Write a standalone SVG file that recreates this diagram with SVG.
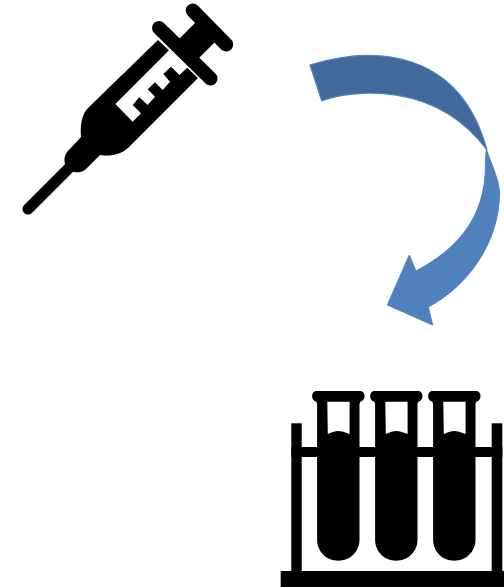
<svg xmlns="http://www.w3.org/2000/svg" width="504" height="587" viewBox="0 0 504 587">
<style>
.k{fill:#000}
.w{fill:#fff}
.fl{stroke:#000;stroke-width:14;stroke-linecap:round;fill:none}
.nd{stroke:#000;stroke-width:11;stroke-linecap:round;fill:none}
.lt{fill:#4f81bd;stroke:#4f81bd;stroke-width:1}
.dk{fill:#41699b;stroke:#4f81bd;stroke-width:1.2}
</style>
<defs>
<g id="tube">
<path class="k" d="M-22 391H22C24.500 391 26.200 393.500 26.200 396.300C26.200 399 24.500 401 22 401.700L21.200 404V539.500C21.200 551.500 12 560.700 0 560.700C-12 560.700 -21.200 551.500 -21.200 539.500V404L-22 401.700C-24.500 401 -26.200 399 -26.200 396.300C-26.200 393.500 -24.500 391 -22 391Z"/>
<path class="w" d="M-11 401.700H11.300V434C6 432.300 3 431 0 431C-3 431 -6 432.300 -10.500 434Z"/>
</g>
</defs>
<rect width="504" height="587" fill="#fff"/>
<g id="syringe">
<path class="nd" d="M28 209L72 165"/>
<path class="fl" d="M192.700 10.500L226.200 44.500"/>
<path class="fl" d="M159 28L210.500 78.500"/>
<path class="k" d="M174 44L200 18L219.500 37.500L193.500 63.500Z"/>
<path class="k" d="M158 40L198 78L128 148C120 155 110 156.500 100 155L85 170C79 174 70 173 66 166C63 160 65 155 67 152L81 137C80 125 82 114 88 108Z"/>
<path class="w" d="M170 49.300L187.700 67.300L179.500 75L171 66.700L163.300 74L170 81.700L162.700 90L155 82.300L147.700 89.300L155 96.700L147.700 105L139.300 97.300L132.700 105L141 113.300L132.700 121.700L115.300 104Z"/>
</g>
<g id="connectors">
<path class="lt" d="M486.500 150C494 170 499.500 183 499.500 193C499.500 240 470 285 428.300 307L432.700 325L387.300 305L409.300 255L416 271C455 250 485.500 220 485.500 165C485.500 160 485.500 155 486.500 150Z"/>
<path class="dk" d="M310 65C375 45 460 50 487 150C435 80 352 90 321.700 100.700Z"/>
</g>
<g id="test-tubes">
<rect class="k" x="280.700" y="571" width="223.300" height="16"/>
<rect class="k" x="291.300" y="423.300" width="10.400" height="148"/>
<rect class="k" x="491.700" y="423.300" width="10.600" height="148"/>
<rect class="k" x="291.300" y="447" width="211" height="10"/>
<use href="#tube" x="338.300"/>
<use href="#tube" x="396.300"/>
<use href="#tube" x="454.300"/>
</g>
</svg>
